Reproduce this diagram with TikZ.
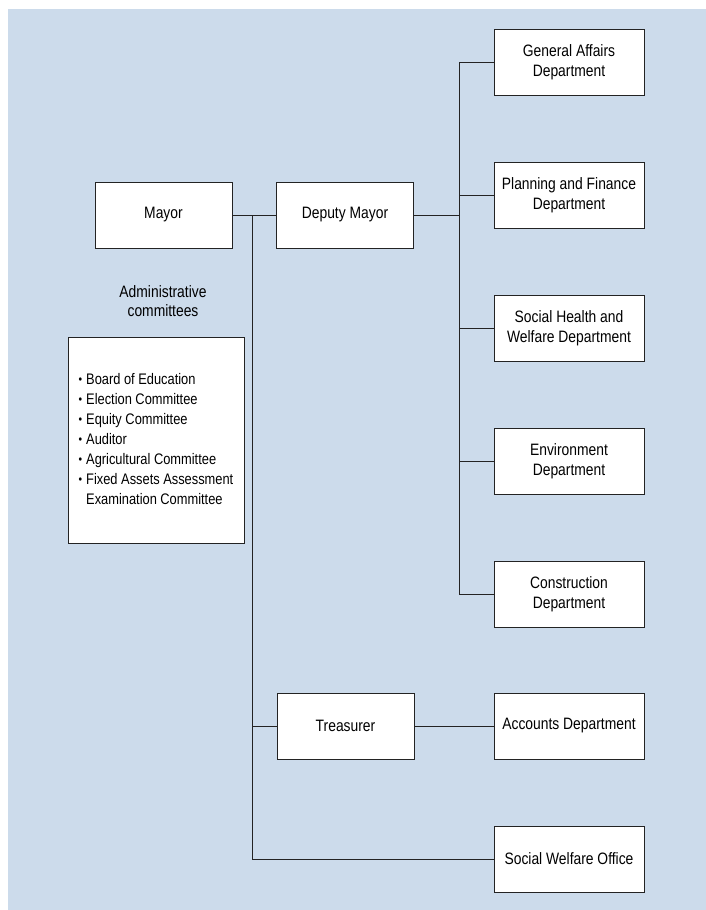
\documentclass[tikz,border=0pt]{standalone}
\usepackage{fontspec}
\setmainfont{Liberation Sans}[FakeStretch=0.84]
\definecolor{bgblue}{RGB}{204,219,235}
\definecolor{edge}{RGB}{35,35,35}
\newcommand{\bul}{\raisebox{0.3pt}{\fontsize{12}{12}\selectfont\textbullet}}
\begin{document}
\begin{tikzpicture}[x=1pt,y=-1pt,
  box/.style={draw=edge, line width=1pt, fill=white, minimum height=66pt,
    inner sep=0pt, align=center, font=\fontsize{16.5}{20.5}\selectfont},
  topbox/.style={box, minimum width=137pt},
  deptbox/.style={box, minimum width=150pt},
  conn/.style={draw=edge, line width=1pt}]
\useasboundingbox (0,0) rectangle (706,910);
\fill[bgblue] (8,9) rectangle (706,910);

\node[topbox] (mayor) at (163.5,215) {Mayor};
\node[topbox] (deputy) at (345,215) {Deputy Mayor};
\node[topbox] (treas) at (345.5,726) {Treasurer};

\node[deptbox] (ga) at (569,62) {General Affairs\\Department};
\node[deptbox] (pf) at (569,195) {Planning and Finance\\Department};
\node[deptbox] (sh) at (569,328) {Social Health and\\Welfare Department};
\node[deptbox] (env) at (569,461) {Environment\\Department};
\node[deptbox] (con) at (569,594) {Construction\\Department};
\node[deptbox] (acc) at (569,726) {Accounts Department};
\node[deptbox] (swo) at (569,859) {Social Welfare Office};

\node[align=center, font=\fontsize{16.5}{19.5}\selectfont] (admlabel) at (163,301) {Administrative\\committees};
\node[box, minimum width=176pt, minimum height=206pt, font=\fontsize{15.3}{20}\selectfont] (adm) at (156,440)
  {\begin{tabular}{@{}l@{\hspace{4pt}}l@{}}
  \bul & Board of Education\\
  \bul & Election Committee\\
  \bul & Equity Committee\\
  \bul & Auditor\\
  \bul & Agricultural Committee\\
  \bul & Fixed Assets Assessment\\
   & Examination Committee
  \end{tabular}};

\coordinate (busA) at (252,215);
\coordinate (busB) at (459,215);

\draw[conn] (mayor.east) -- (deputy.west);
\draw[conn] (busA) |- (swo.west);
\draw[conn] (busA |- treas.west) -- (treas.west);
\draw[conn] (treas.east) -- (acc.west);
\draw[conn] (deputy.east) -- (busB);
\draw[conn] (busB |- ga.west) -- (busB |- con.west);
\foreach \d in {ga,pf,sh,env,con}{
  \draw[conn] (busB |- \d.west) -- (\d.west);
}
\end{tikzpicture}
\end{document}
